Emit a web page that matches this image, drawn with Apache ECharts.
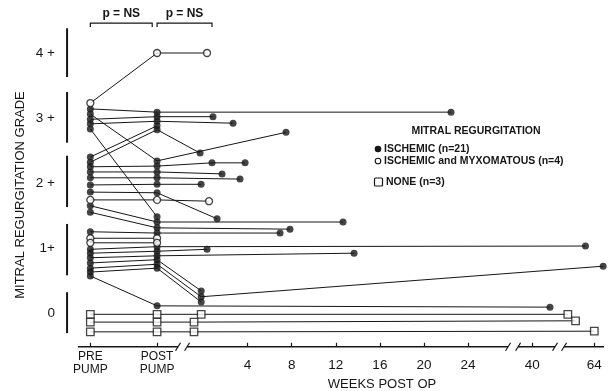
<!DOCTYPE html>
<html><head><meta charset="utf-8">
<script src="https://cdn.jsdelivr.net/npm/echarts@6/dist/echarts.min.js"></script>
<style>html,body{margin:0;padding:0;background:#fff}#c{width:608px;height:391px}</style>
</head><body><div id="c"></div>
<script>
// ---------- data (grade: 0..4, jittered within band as in the picture; follow-up in weeks post op) ----------
const patientGroup = ['myx','isch','isch','isch','isch','isch','isch','isch','isch','isch','isch','isch','isch','myx','isch','isch','isch','myx','myx','isch','isch','isch','isch','isch','isch','isch','none','none','none'];
const preGrade  = [3.23,3.14,3.06,2.98,2.91,2.83,2.40,2.32,2.25,2.17,2.08,1.97,1.86,1.74,1.65,1.55,1.25,1.15,1.08,0.98,0.92,0.85,0.77,0.69,0.63,0.57,-0.02,-0.14,-0.29];
const postGrade = [4.00,3.09,2.34,3.02,2.95,1.48,2.88,2.82,2.26,2.17,2.08,1.98,1.85,1.74,1.40,1.31,1.23,1.15,1.08,1.02,0.95,0.88,0.82,0.75,0.69,0.11,-0.02,-0.14,-0.29];
const followWeeks = [[0.33],[22.45],[7.49],[0.87],[2.69],[],[],[-0.3],[0.78,3.78],[1.69],[3.32],[-0.21],[1.24],[0.51],[12.66],[7.85],[6.95],[],[],[63.2],[0.33],[13.66],[-0.2],[-0.2,64.8],[-0.2],[41.6],[-0.2,61.6],[-0.85,62.3],[-0.85,64.0]];
const followGrade = [[4.00],[3.09],[2.78],[3.02],[2.92],[],[],[2.46],[2.31,2.31],[2.14],[2.06],[1.98],[1.45],[1.72],[1.40],[1.29],[1.23],[],[],[1.03],[0.98],[0.92],[0.34],[0.25,0.72],[0.17],[0.09],[-0.02,-0.02],[-0.14,-0.12],[-0.29,-0.28]];
const xTickLabels = ['PRE\nPUMP','POST\nPUMP','4','8','12','16','20','24','40','64'];
const xTickWeeks  = ['PRE','POST',4,8,12,16,20,24,40,64];
const yTickValues = [0,1,2,3,4];
const yTickLabels = ['0','1+','2 +','3 +','4 +'];
const gradeBands = [[-0.31,0.32],[0.58,1.37],[1.63,2.42],[2.62,3.40],[3.63,4.38]];
const legendLabels = ['ISCHEMIC (n=21)','ISCHEMIC and MYXOMATOUS (n=4)','NONE (n=3)'];

// ---------- broken time axis ----------
const PRE_X = -10.25, POST_X = -4.2;
function toAxis(w){
  if (w === 'PRE') return PRE_X;
  if (w === 'POST') return POST_X;
  if (w <= 30) return w;
  if (w <= 52) return 29.82 + (w - 40);
  return 35.44 + (w - 64);
}
const xTickPos = xTickWeeks.map(toAxis);
const Y_AXIS = -0.52;
const FONT = '"Liberation Sans", Arial, sans-serif';
const INK = '#161616';

const lineSeries = preGrade.map((p, i) => {
  const pts = [[PRE_X, p], [POST_X, postGrade[i]]];
  followWeeks[i].forEach((w, k) => pts.push([toAxis(w), followGrade[i][k]]));
  return {type:'line', data: pts, symbol:'none', silent:true, z:2,
    lineStyle:{color:INK, width:1}, animation:false};
});
function groupPoints(g){
  const out = [];
  preGrade.forEach((p, i) => {
    if (patientGroup[i] !== g) return;
    out.push([PRE_X, p], [POST_X, postGrade[i]]);
    followWeeks[i].forEach((w, k) => out.push([toAxis(w), followGrade[i][k]]));
  });
  return out;
}

const chart = echarts.init(document.getElementById('c'), null, {renderer:'canvas'});
chart.setOption({
  animation:false,
  backgroundColor:'#fff',
  grid:{left:60, right:2, top:14, bottom:44.2, containLabel:false},
  xAxis:{type:'value', min:-13, max:36.5,
    axisLine:{show:false, onZero:false},
    splitLine:{show:false},
    axisTick:{show:true, inside:true, length:4, customValues:xTickPos, lineStyle:{color:INK, width:1.2}},
    axisLabel:{show:true, customValues:xTickPos, margin:3, color:INK, fontFamily:FONT,
      formatter:(v)=>{
        let best=0; xTickPos.forEach((t,i)=>{ if (Math.abs(t-v) < Math.abs(xTickPos[best]-v)) best=i; });
        const lab = xTickLabels[best];
        return lab.indexOf('\n')>=0 ? lab.split('\n').map(s=>'{a|'+s+'}').join('\n') : '{n|'+lab+'}';
      },
      rich:{a:{fontSize:12, lineHeight:13, fontFamily:FONT, color:INK}, n:{fontSize:13.5, fontFamily:FONT, color:INK, padding:[8,0,0,0]}}
    }},
  yAxis:{type:'value', min:Y_AXIS, max:4.6,
    axisLine:{show:false, onZero:false}, splitLine:{show:false}, axisTick:{show:false},
    axisLabel:{show:true, customValues:yTickValues, margin:5, fontSize:13.5, color:INK, fontFamily:FONT,
      formatter:(v)=> yTickLabels[yTickValues.indexOf(Math.round(v))] || ''}},
  series:[
    ...lineSeries,
    {type:'scatter', data:groupPoints('isch'), symbol:'circle', symbolSize:7, z:5, silent:true,
      itemStyle:{color:INK}},
    {type:'scatter', data:groupPoints('myx'), symbol:'circle', symbolSize:7, z:6, silent:true,
      itemStyle:{color:'#fff', borderColor:INK, borderWidth:1.3}},
    {type:'scatter', data:groupPoints('none'), symbol:'rect', symbolSize:7.5, z:6, silent:true,
      itemStyle:{color:'#fff', borderColor:INK, borderWidth:1.3}},
    {type:'custom', data:[[0,0]], z:1, silent:true, clip:false,
      renderItem:(params, api)=>{
        const c = p => api.coord(p);
        const ch = [];
        // grade band bars
        gradeBands.forEach(b=>{
          const a = c([-12.36, b[0]]), d = c([-12.36, b[1]]);
          ch.push({type:'line', shape:{x1:a[0], y1:a[1], x2:d[0], y2:d[1]}, style:{stroke:INK, lineWidth:2}});
        });
        // broken axis line
        const segs = [[-11.37,-2.30],[-1.48,27.62],[28.53,31.88],[32.70,36.32]];
        segs.forEach((s,i)=>{
          const a = c([s[0], Y_AXIS]), d = c([s[1], Y_AXIS]);
          ch.push({type:'line', shape:{x1:a[0], y1:a[1], x2:d[0], y2:d[1]}, style:{stroke:INK, lineWidth:1.4}});
          if (i>0) ch.push({type:'line', shape:{x1:a[0]-2.5, y1:a[1]+4, x2:a[0]+2.5, y2:a[1]-4}, style:{stroke:INK, lineWidth:1.2}});
          if (i<segs.length-1) ch.push({type:'line', shape:{x1:d[0]-2.5, y1:d[1]+4, x2:d[0]+2.5, y2:d[1]-4}, style:{stroke:INK, lineWidth:1.2}});
        });
        // brackets p = NS
        const brk = [[PRE_X, -4.64],[POST_X, 0.78]];
        brk.forEach(b=>{
          const a = c([b[0], 4.46]), d = c([b[1], 4.46]);
          ch.push({type:'polyline', shape:{points:[[a[0],a[1]+4],[a[0],a[1]],[d[0],d[1]],[d[0],d[1]+4]]}, style:{stroke:INK, lineWidth:1.2, fill:null}});
          ch.push({type:'text', style:{text:'p = NS', x:(a[0]+d[0])/2, y:a[1]-9, align:'center', verticalAlign:'middle', font:'bold 12px '+FONT, fill:INK}});
        });
        return {type:'group', children:ch};
      }}
  ],
  graphic:[
    {type:'text', x:20, y:195, rotation:Math.PI/2, style:{text:'MITRAL REGURGITATION GRADE', align:'center', verticalAlign:'middle', font:'13px '+FONT, fill:INK}},
    {type:'text', x:382, y:384, style:{text:'WEEKS POST OP', align:'center', verticalAlign:'middle', font:'13px '+FONT, fill:INK}},
    {type:'text', x:476, y:131, style:{text:'MITRAL REGURGITATION', align:'center', verticalAlign:'middle', font:'bold 10.5px '+FONT, fill:INK}},
    {type:'circle', shape:{cx:378, cy:149, r:3.3}, style:{fill:INK}},
    {type:'text', x:384, y:149, style:{text:legendLabels[0], align:'left', verticalAlign:'middle', font:'bold 10.5px '+FONT, fill:INK}},
    {type:'circle', shape:{cx:378, cy:161, r:2.8}, style:{fill:'#fff', stroke:INK, lineWidth:1.1}},
    {type:'text', x:384, y:161, style:{text:legendLabels[1], align:'left', verticalAlign:'middle', font:'bold 10.5px '+FONT, fill:INK}},
    {type:'rect', shape:{x:374.5, y:178, width:8, height:8, r:1}, style:{fill:'#fff', stroke:INK, lineWidth:1.2}},
    {type:'text', x:386, y:182, style:{text:legendLabels[2], align:'left', verticalAlign:'middle', font:'bold 10.5px '+FONT, fill:INK}}
  ]
});
</script></body></html>
